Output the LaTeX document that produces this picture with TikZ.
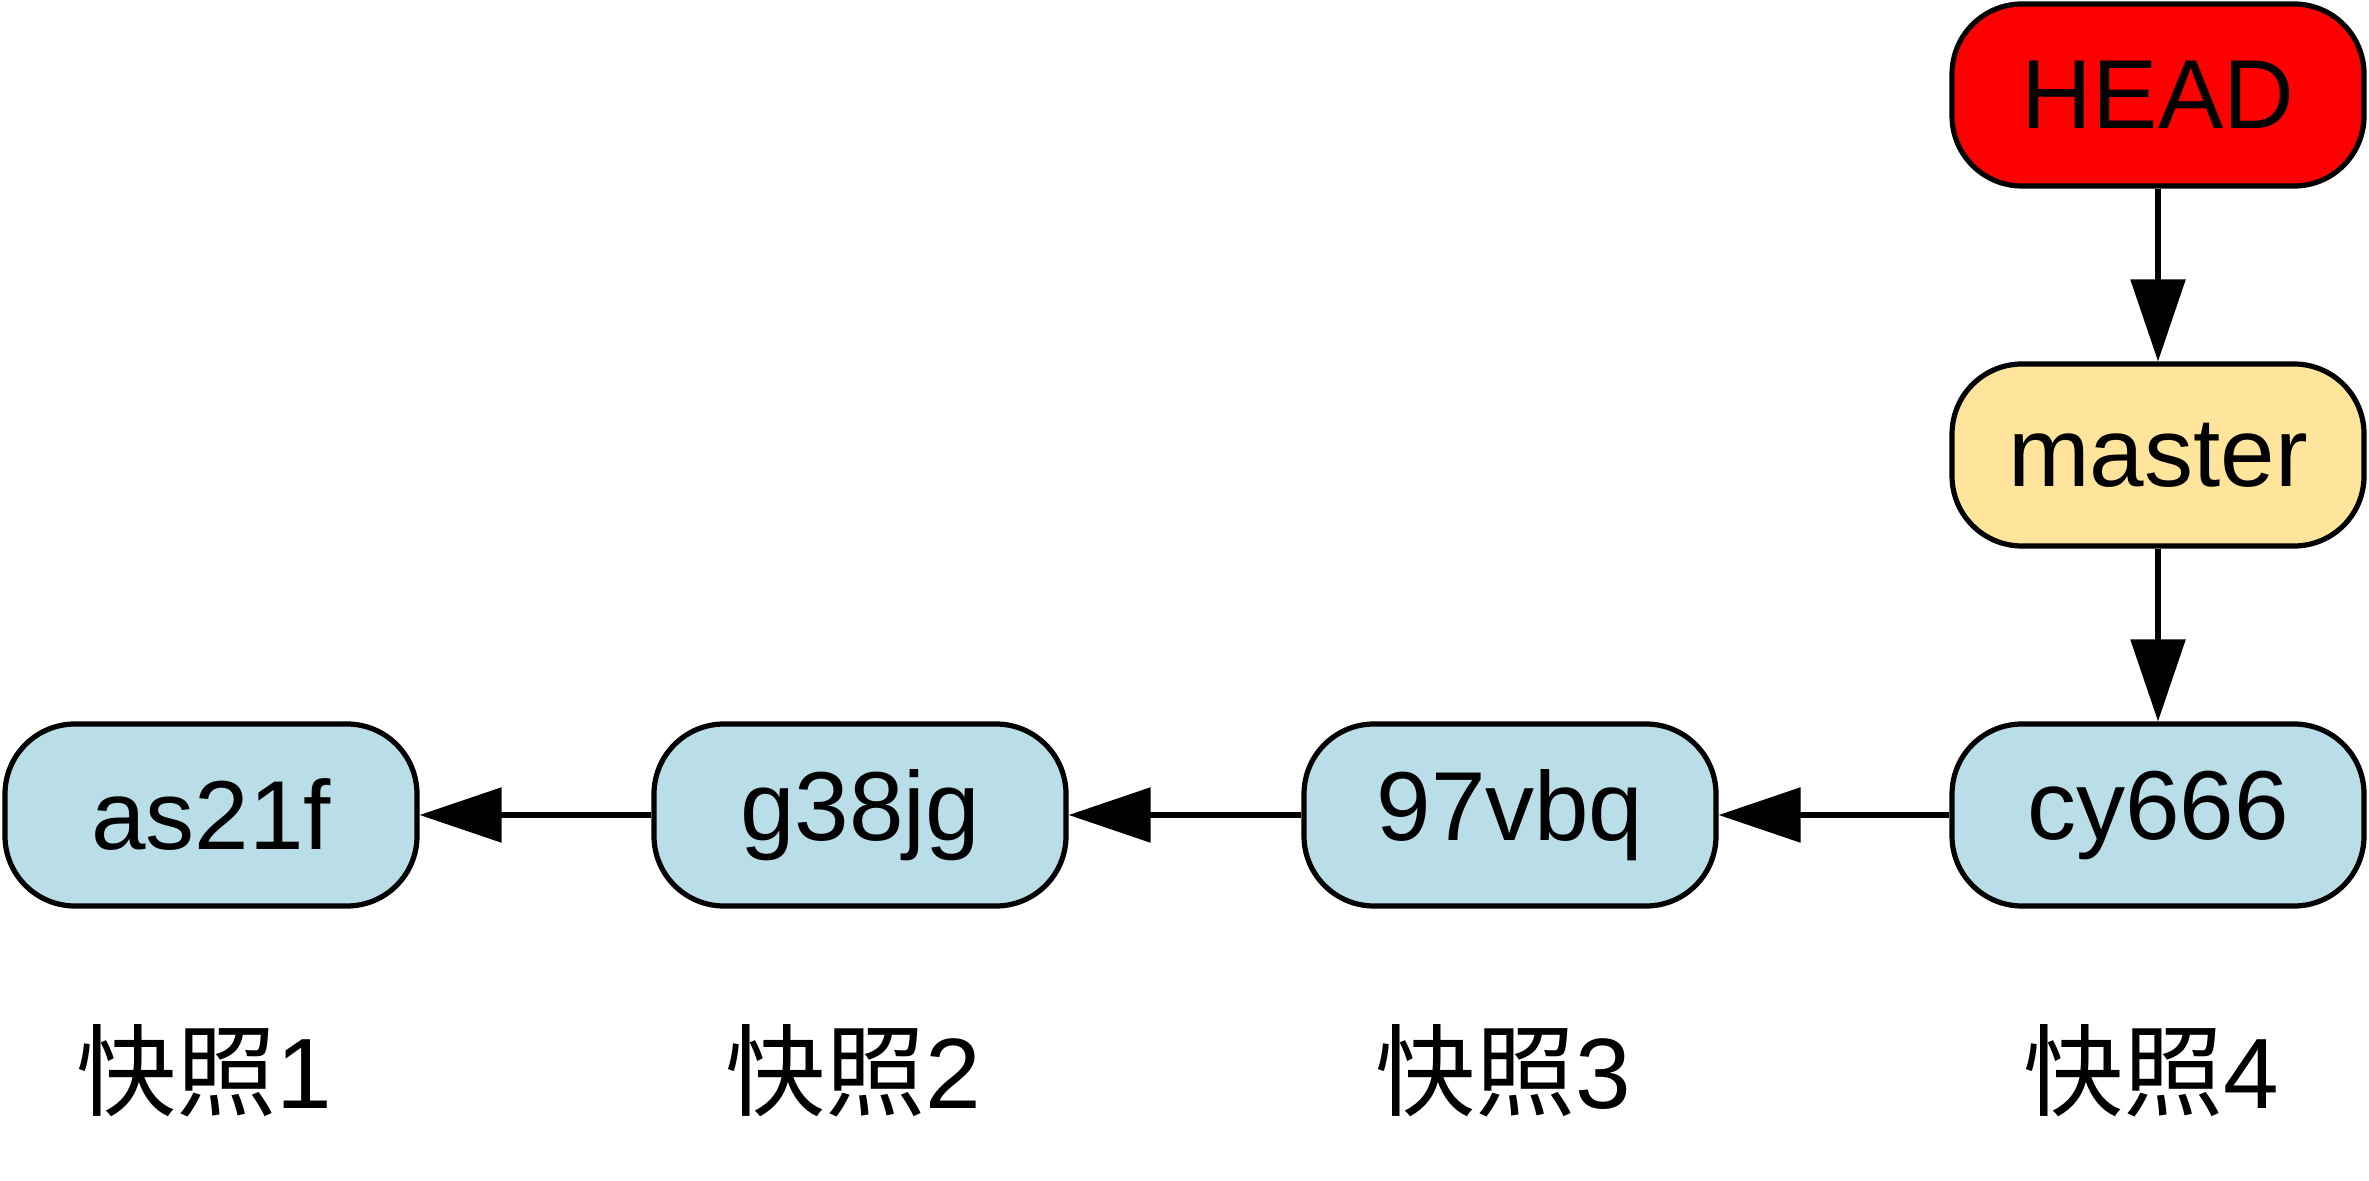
\documentclass[tikz,border=0pt]{standalone}
\usepackage{fontspec}
\setmainfont{Liberation Sans}
\newfontfamily\cjk{Noto Sans CJK SC}
\usetikzlibrary{arrows.meta}
\definecolor{commitblue}{HTML}{B9DEE8}
\definecolor{branchyellow}{HTML}{FEE59B}
\definecolor{headred}{HTML}{FF0000}
\begin{document}
\begin{tikzpicture}[x=0.5pt,y=-0.5pt,
  box/.style={draw=black, line width=2.6pt, rounded corners=35pt,
    minimum width=206pt, minimum height=91pt, inner sep=0pt,
    font=\fontsize{49}{58}\selectfont},
  commit/.style={box, fill=commitblue},
  branch/.style={box, fill=branchyellow},
  headbox/.style={box, fill=headred},
  snap/.style={font=\fontsize{50}{58}\selectfont, inner sep=0pt},
  link/.style={line width=2.8pt, -{Triangle[length=41pt, width=27pt]}}]
\useasboundingbox (0,0) rectangle (2369,1181);
\node[headbox] (head) at (2158,95) {HEAD};
\node[branch] (master) at (2158,455) {master};
\node[commit] (c1) at (211,815) {as21f};
\node[commit] (c2) at (860,815) {g38jg};
\node[commit] (c3) at (1510,815) {97vbq};
\node[commit] (c4) at (2158,815) {cy666};
\node[snap] (s1) at (204,1071) {{\cjk 快照}1};
\node[snap] (s2) at (853,1071) {{\cjk 快照}2};
\node[snap] (s3) at (1503,1071) {{\cjk 快照}3};
\node[snap] (s4) at (2151,1071) {{\cjk 快照}4};
\draw[link] (head) -- (master);
\draw[link] (master) -- (c4);
\draw[link] (c4) -- (c3);
\draw[link] (c3) -- (c2);
\draw[link] (c2) -- (c1);
\end{tikzpicture}
\end{document}
